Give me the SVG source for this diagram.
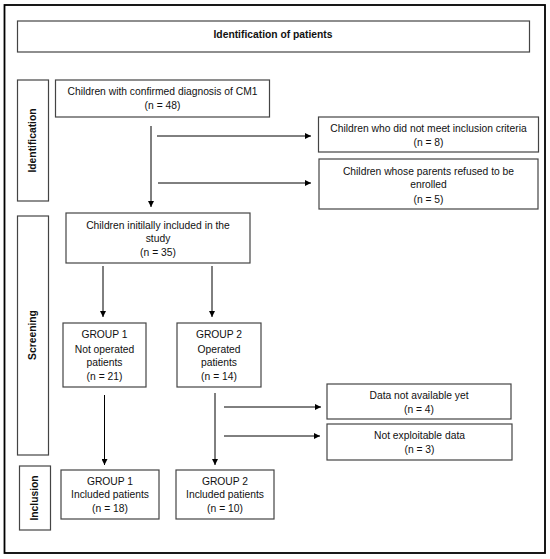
<svg xmlns="http://www.w3.org/2000/svg" width="550" height="559" viewBox="0 0 550 559">
<defs>
<marker id="ah" viewBox="0 0 10 10" refX="10" refY="5" markerWidth="6" markerHeight="6" markerUnits="userSpaceOnUse" orient="auto">
<path d="M0,0 L10,5 L0,10 z" fill="#000"/>
</marker>
<style>
.box{fill:#fff;stroke:#444;stroke-width:1.2}
.t{font-family:"Liberation Sans",Arial,sans-serif;font-size:10.3px;fill:#111;text-anchor:middle}
.b{font-weight:bold}
.c{stroke:#000;stroke-width:1;fill:none;marker-end:url(#ah)}
</style>
</defs>
<rect x="0" y="0" width="550" height="559" fill="#fff"/>
<rect x="4.5" y="5" width="540.5" height="548" fill="#fff" stroke="#000" stroke-width="1.8"/>

<g id="title">
<rect class="box" x="17.5" y="21" width="512" height="31"/>
<text class="t b" x="273" y="37.5">Identification of patients</text>
</g>

<g id="lbl-identification">
<rect class="box" x="17.5" y="80" width="31" height="121"/>
<text class="t b" transform="translate(35.5,140.5) rotate(-90)">Identification</text>
</g>
<g id="lbl-screening">
<rect class="box" x="17.5" y="216" width="31" height="239"/>
<text class="t b" transform="translate(35.5,335) rotate(-90)">Screening</text>
</g>
<g id="lbl-inclusion">
<rect class="box" x="19.5" y="466" width="31" height="64"/>
<text class="t b" transform="translate(37.5,498) rotate(-90)">Inclusion</text>
</g>

<g id="n-cm1">
<rect class="box" x="55.5" y="80" width="214" height="37"/>
<text class="t" x="162.5" y="95">Children with confirmed diagnosis of CM1</text>
<text class="t" x="162.5" y="109">(n = 48)</text>
</g>
<g id="n-notmeet">
<rect class="box" x="318.5" y="117" width="220" height="35"/>
<text class="t" x="428.5" y="132">Children who did not meet inclusion criteria</text>
<text class="t" x="428.5" y="146">(n = 8)</text>
</g>
<g id="n-refused">
<rect class="box" x="319" y="159" width="219" height="50"/>
<text class="t" x="428.5" y="175">Children whose parents refused to be</text>
<text class="t" x="428.5" y="188">enrolled</text>
<text class="t" x="428.5" y="203">(n = 5)</text>
</g>
<g id="n-initial">
<rect class="box" x="66" y="213" width="184" height="50"/>
<text class="t" x="158" y="229">Children initilally included in the</text>
<text class="t" x="158" y="242">study</text>
<text class="t" x="158" y="256">(n = 35)</text>
</g>
<g id="n-g1">
<rect class="box" x="63" y="323" width="83" height="64"/>
<text class="t" x="104.5" y="338">GROUP 1</text>
<text class="t" x="104.5" y="353">Not operated</text>
<text class="t" x="104.5" y="366">patients</text>
<text class="t" x="104.5" y="380">(n = 21)</text>
</g>
<g id="n-g2">
<rect class="box" x="177" y="323" width="84" height="64"/>
<text class="t" x="219" y="338">GROUP 2</text>
<text class="t" x="219" y="353">Operated</text>
<text class="t" x="219" y="366">patients</text>
<text class="t" x="219" y="380">(n = 14)</text>
</g>
<g id="n-na">
<rect class="box" x="327" y="384" width="184" height="35"/>
<text class="t" x="419" y="399">Data not available yet</text>
<text class="t" x="419" y="413">(n = 4)</text>
</g>
<g id="n-ne">
<rect class="box" x="327" y="424" width="185" height="36"/>
<text class="t" x="419.5" y="439">Not exploitable data</text>
<text class="t" x="419.5" y="453">(n = 3)</text>
</g>
<g id="n-g1i">
<rect class="box" x="61" y="470" width="98" height="49"/>
<text class="t" x="110" y="485">GROUP 1</text>
<text class="t" x="110" y="498">Included patients</text>
<text class="t" x="110" y="512">(n = 18)</text>
</g>
<g id="n-g2i">
<rect class="box" x="176" y="470" width="98" height="49"/>
<text class="t" x="225" y="485">GROUP 2</text>
<text class="t" x="225" y="498">Included patients</text>
<text class="t" x="225" y="512">(n = 10)</text>
</g>

<g id="connectors">
<line class="c" x1="151" y1="126" x2="151" y2="207"/>
<line class="c" x1="157" y1="136" x2="311" y2="136"/>
<line class="c" x1="158" y1="183" x2="311" y2="183"/>
<line class="c" x1="103" y1="266" x2="103" y2="317"/>
<line class="c" x1="212" y1="266" x2="212" y2="317"/>
<line class="c" x1="104.5" y1="395" x2="104.5" y2="465"/>
<line class="c" x1="215" y1="393" x2="215" y2="465"/>
<line class="c" x1="224" y1="407" x2="321" y2="407"/>
<line class="c" x1="224" y1="436" x2="320" y2="436"/>
</g>
</svg>
